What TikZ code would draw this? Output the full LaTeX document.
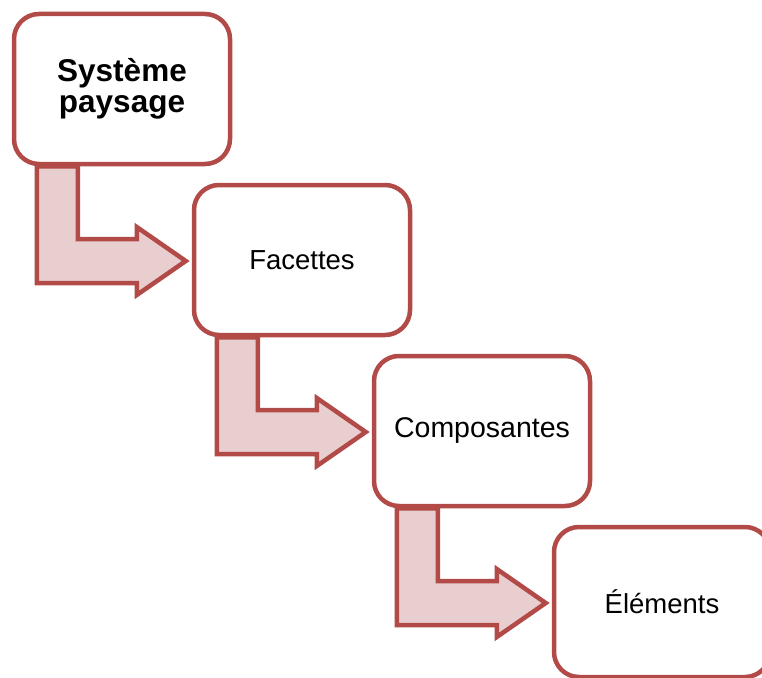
\documentclass[tikz,border=0pt]{standalone}
\usepackage{fontspec}
\setmainfont{Liberation Sans}
\usetikzlibrary{calc,backgrounds}
\definecolor{edgered}{RGB}{178,75,72}
\definecolor{flowfill}{RGB}{232,206,206}
\begin{document}
\begin{tikzpicture}[x=1pt,y=-1pt,
  stage/.style={draw=edgered, line width=4.5pt, fill=white,
    rounded corners=25pt, minimum width=216pt, minimum height=150pt,
    inner sep=0pt, align=center, font=\fontsize{27.5}{31}\selectfont},
  flow/.style={draw=edgered, fill=flowfill, line width=4.5pt, line join=miter}]
\useasboundingbox (0,0) rectangle (762,677);
\clip (0,0) rectangle (762,677);

% the four levels, stepping down to the right
\node[stage, font=\fontsize{31.5}{31.5}\selectfont\bfseries] (s1) at (122,89) {Système\\paysage};
\node[stage] (s2) at (302,260) {Facettes};
\node[stage, font=\fontsize{28.5}{31}\selectfont] (s3) at (482,431) {Composantes};
\node[stage] (s4) at (662,602) {Éléments};

% bent arrows from each level to the next
\begin{scope}[on background layer]
\foreach \a/\b in {s1/s2, s2/s3, s3/s4}{
  \draw[flow] ($(\a.south west)+(25,0)$)
    |- ($(\b.west)+(-55,23)$) -- ++(0,12)
    -- ($(\b.west)+(-6,1)$) -- ++(-49,-34) -- ++(0,12)
    -| ($(\a.south west)+(66,0)$) -- cycle;
}
\end{scope}
\end{tikzpicture}
\end{document}
